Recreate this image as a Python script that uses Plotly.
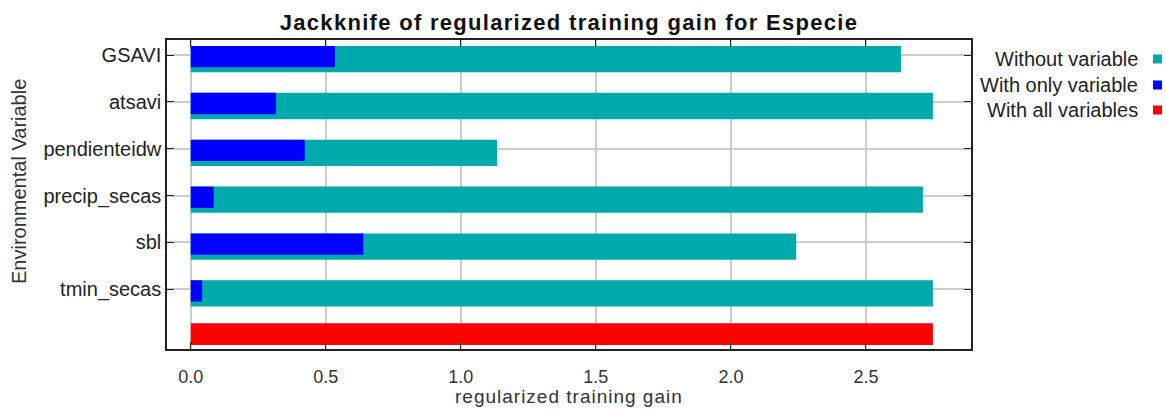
import plotly.graph_objects as go

variables = ["GSAVI", "atsavi", "pendienteidw", "precip_secas", "sbl", "tmin_secas"]
without_variable = [2.630, 2.748, 1.134, 2.711, 2.242, 2.748]
with_only_variable = [0.534, 0.316, 0.422, 0.085, 0.639, 0.042]
with_all_variables = [2.748]
x_ticks = [0.0, 0.5, 1.0, 1.5, 2.0, 2.5]

legend_names = ["Without variable", "With only variable", "With all variables"]
colors = ["#00AAAA", "#0000FF", "#FF0000"]

pos = list(range(len(variables)))
all_pos = [len(variables)]

fig = go.Figure()
fig.add_trace(go.Bar(y=pos, x=without_variable, orientation="h", marker_color=colors[0],
                     marker_line_width=0,
                     offset=-0.192, width=0.561, name=legend_names[0], showlegend=False))
fig.add_trace(go.Bar(y=pos, x=with_only_variable, orientation="h", marker_color=colors[1],
                     marker_line_width=0,
                     offset=-0.192, width=0.455, name=legend_names[1], showlegend=False))
fig.add_trace(go.Bar(y=all_pos, x=with_all_variables, orientation="h", marker_color=colors[2],
                     marker_line_width=0,
                     offset=-0.275, width=0.463, name=legend_names[2], showlegend=False))

font = "Liberation Sans, Arial, sans-serif"
fig.update_layout(
    width=1166, height=410,
    margin=dict(l=167, r=195, t=40, b=61),
    barmode="overlay",
    paper_bgcolor="white", plot_bgcolor="white",
    font=dict(family=font, size=19, color="#222"),
    title=dict(text="<b><span style='letter-spacing:1.3px'>Jackknife of regularized training gain for Especie</span></b>",
               x=(167 + 971) / 2 / 1166, xanchor="center", y=1 - 22 / 410, yanchor="middle",
               font=dict(size=22, color="#111")),
    showlegend=False,
)
fig.update_xaxes(range=[-0.088, 2.889], tickvals=x_ticks, ticktext=[f"{v:.1f}" for v in x_ticks],
                 ticks="inside", ticklen=7, tickcolor="#222", mirror="ticks",
                 showline=True, linecolor="#222", linewidth=1.5,
                 showgrid=True, gridcolor="#CCCCCC", gridwidth=1.5, zeroline=False,
                 tickfont=dict(size=18, color="#333"), automargin=False, ticklabelstandoff=11)
fig.update_yaxes(range=[6.274, -0.32], tickvals=pos, ticktext=variables,
                 ticks="inside", ticklen=7, tickcolor="#222", mirror="ticks",
                 showline=True, linecolor="#222", linewidth=1.5,
                 showgrid=True, gridcolor="#CCCCCC", gridwidth=1.5, zeroline=False,
                 tickfont=dict(size=20, color="#222"), automargin=False)

fig.add_annotation(text="<span style='letter-spacing:1px'>regularized training gain</span>",
                   xref="paper", yref="paper",
                   x=0.5, y=(349 - 409) / 309, xanchor="center", yanchor="bottom",
                   showarrow=False, font=dict(size=19, color="#333"))
fig.add_annotation(text="Environmental Variable", textangle=-90, xref="paper", yref="paper",
                   x=(19 - 167) / 804, y=(349 - 182) / 309, xanchor="center", yanchor="middle",
                   showarrow=False, font=dict(size=20, color="#333"))

leg_y = [59, 85, 110]
for name, c, yy in zip(legend_names, colors, leg_y):
    py = (349 - yy) / 309
    fig.add_annotation(text=name, xref="paper", yref="paper", x=(1140 - 167) / 804, y=py,
                       xanchor="right", yanchor="middle", showarrow=False,
                       font=dict(size=20, color="#222"))
    fig.add_shape(type="rect", xref="paper", yref="paper",
                  x0=(1153 - 167) / 804, x1=(1162 - 167) / 804,
                  y0=(349 - yy - 4.5) / 309, y1=(349 - yy + 4.5) / 309,
                  fillcolor=c, line_width=0)

fig.write_html("out.html", config={"displayModeBar": False},
               post_script="document.body.style.margin='0';")
